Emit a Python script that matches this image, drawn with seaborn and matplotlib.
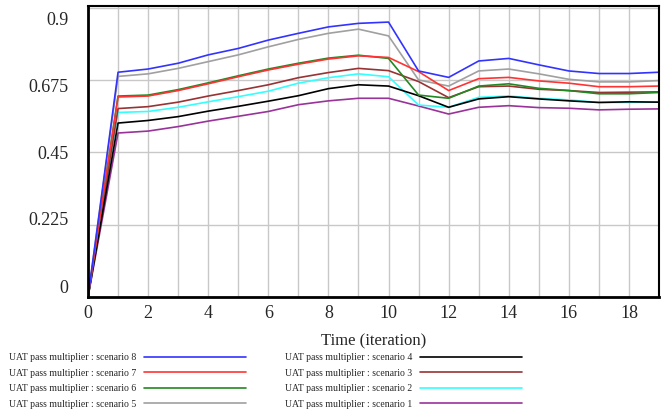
import numpy as np
import pandas as pd
import seaborn as sns
import matplotlib
matplotlib.use("Agg")
import matplotlib.pyplot as plt
import matplotlib.transforms as mtransforms
from matplotlib.lines import Line2D

# time steps and scenario values
time = list(range(20))
s1 = [0, 0.510, 0.516, 0.530, 0.547, 0.562, 0.577, 0.598, 0.610, 0.618, 0.618, 0.594, 0.569, 0.590, 0.595, 0.589, 0.587, 0.582, 0.584, 0.585]
s2 = [0, 0.574, 0.577, 0.590, 0.607, 0.623, 0.640, 0.665, 0.682, 0.694, 0.685, 0.597, 0.590, 0.621, 0.625, 0.618, 0.613, 0.605, 0.605, 0.606]
s3 = [0, 0.586, 0.592, 0.606, 0.625, 0.642, 0.660, 0.682, 0.698, 0.711, 0.704, 0.670, 0.620, 0.654, 0.656, 0.646, 0.642, 0.636, 0.637, 0.638]
s4 = [0, 0.541, 0.549, 0.561, 0.578, 0.593, 0.609, 0.626, 0.648, 0.660, 0.656, 0.626, 0.590, 0.616, 0.623, 0.616, 0.610, 0.605, 0.607, 0.606]
s5 = [0, 0.686, 0.694, 0.711, 0.732, 0.753, 0.778, 0.801, 0.820, 0.833, 0.812, 0.675, 0.656, 0.703, 0.709, 0.694, 0.677, 0.669, 0.669, 0.673]
s6 = [0, 0.625, 0.628, 0.645, 0.666, 0.688, 0.709, 0.727, 0.743, 0.752, 0.742, 0.628, 0.618, 0.656, 0.663, 0.649, 0.642, 0.632, 0.632, 0.636]
s7 = [0, 0.622, 0.625, 0.642, 0.663, 0.685, 0.706, 0.724, 0.740, 0.750, 0.745, 0.701, 0.642, 0.679, 0.683, 0.672, 0.665, 0.654, 0.654, 0.656]
s8 = [0, 0.699, 0.709, 0.727, 0.753, 0.773, 0.799, 0.820, 0.840, 0.851, 0.855, 0.703, 0.683, 0.734, 0.742, 0.722, 0.703, 0.695, 0.695, 0.699]

series = {"1": s1, "2": s2, "3": s3, "4": s4, "5": s5, "6": s6, "7": s7, "8": s8}
colors = {"1": "#993399", "2": "#33ffff", "3": "#993333", "4": "#000000",
          "5": "#a0a0a0", "6": "#228822", "7": "#ff3333", "8": "#3333ff"}
yticks = [0, 0.225, 0.45, 0.675, 0.9]
ytick_labels = ["0", "0.225", "0.45", "0.675", "0.9"]
xticks = [0, 2, 4, 6, 8, 10, 12, 14, 16, 18]

rows = []
for k, vals in series.items():
    for t, v in zip(time, vals):
        rows.append({"time": t, "value": v, "scenario": k})
df = pd.DataFrame(rows)

sns.set_style("white")
plt.rcParams['font.family'] = ['Liberation Serif', 'DejaVu Serif']

fig = plt.figure(figsize=(6.67, 4.11), dpi=100)
ax = fig.add_axes([88/667, 1-297/411, (659-88)/667, (297-6)/411])

sns.lineplot(data=df, x="time", y="value", hue="scenario", palette=colors,
             hue_order=["1", "2", "3", "4", "5", "6", "7", "8"],
             linewidth=1.2, legend=False, ax=ax)

ax.set_xlim(0, 19)
ax.set_ylim(0, 0.905)
ax.set_xticks(range(20), minor=True)
ax.set_xticks(xticks)
ax.set_yticks(yticks)
ax.set_yticklabels(ytick_labels)
ax.grid(True, which="both", axis="x", color="#c8c8c8", linewidth=1)
ax.grid(True, which="major", axis="y", color="#c8c8c8", linewidth=1)
ax.set_axisbelow(True)
ax.tick_params(axis="both", which="both", length=0, labelsize=13)
ax.tick_params(axis="y", pad=14)
ax.tick_params(axis="x", pad=6)
for side in ["left", "bottom"]:
    ax.spines[side].set_linewidth(2)
for side in ["top", "right"]:
    ax.spines[side].set_linewidth(1.5)
for sp in ax.spines.values():
    sp.set_color("black")
    sp.set_visible(True)

ax.set_xlabel("Time (iteration)", fontsize=12, labelpad=8)
ax.set_ylabel("")

# the y labels are squeezed toward the middle in the original
shifts = [11, 6, 0, -6, -11]
for lab, dy in zip(ax.get_yticklabels(), shifts):
    off = mtransforms.ScaledTranslation(0, dy / 100, fig.dpi_scale_trans)
    lab.set_transform(lab.get_transform() + off)

handles = []
for k in ["8", "7", "6", "5", "4", "3", "2", "1"]:
    handles.append(Line2D([0], [0], color=colors[k], linewidth=1.2,
                          label="UAT pass multiplier : scenario " + k))
fig.legend(handles=handles, loc="upper left", bbox_to_anchor=(9/667, 1-353/411),
           ncol=2, frameon=False, markerfirst=False, fontsize=7,
           handlelength=10.5, handletextpad=0.8, columnspacing=4,
           labelspacing=0.68, borderpad=0, borderaxespad=0)

fig.savefig("out.png", dpi=100)
